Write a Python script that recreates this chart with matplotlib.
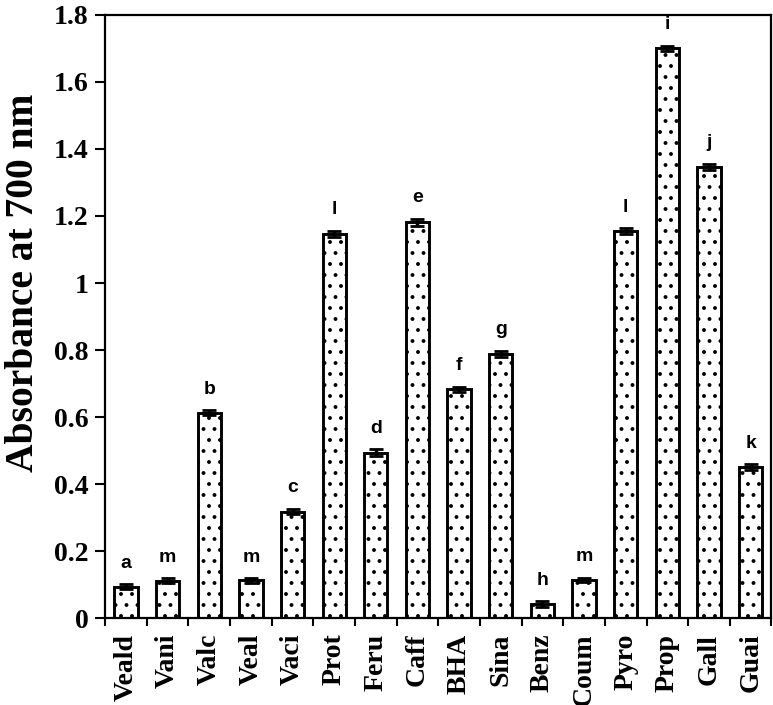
import numpy as np
import matplotlib
matplotlib.use("Agg")
import matplotlib.pyplot as plt

# compounds, absorbance at 700 nm, error and significance letters
compounds = ["Veald", "Vani", "Valc", "Veal", "Vaci", "Prot", "Feru", "Caff",
             "BHA", "Sina", "Benz", "Coum", "Pyro", "Prop", "Gall", "Guai"]
absorbance = [0.094, 0.112, 0.613, 0.113, 0.318, 1.146, 0.494, 1.181,
              0.683, 0.788, 0.043, 0.114, 1.155, 1.700, 1.347, 0.450]
errors = [0.008, 0.008, 0.007, 0.007, 0.008, 0.010, 0.010, 0.010,
          0.008, 0.010, 0.008, 0.007, 0.008, 0.007, 0.009, 0.009]
letters = ["a", "m", "b", "m", "c", "l", "d", "e",
           "f", "g", "h", "m", "l", "i", "j", "k"]

# hatch spacing is tied to dpi, so draw at 132 dpi and scale point sizes
DPI = 132
k = 100 / DPI

plt.rcParams["hatch.linewidth"] = 0.9

fig = plt.figure(figsize=(773 / DPI, 705 / DPI), dpi=DPI)
ax = fig.add_axes([0.136, 0.123, 0.862, 0.856])

x = np.arange(len(compounds))
ax.bar(x, absorbance, width=0.56, color="white", edgecolor="black",
       linewidth=2.1 * k, hatch="..", yerr=errors, capsize=5 * k,
       error_kw=dict(elinewidth=2.5 * k, capthick=2.0 * k, ecolor="black"))

for xi, v, e, lab in zip(x, absorbance, errors, letters):
    ax.annotate(lab, (xi, v + e), xytext=(0, 9 * k), textcoords="offset points",
                ha="center", va="bottom", fontsize=14 * k, fontweight="bold",
                family="Liberation Sans")

ax.set_xlim(-0.5, len(compounds) - 0.5)
ax.set_ylim(0, 1.8)
ax.set_yticks(np.arange(0, 1.81, 0.2))
ax.set_yticklabels(["0", "0.2", "0.4", "0.6", "0.8", "1", "1.2", "1.4", "1.6", "1.8"],
                   fontsize=20 * k, fontweight="bold", family="Liberation Serif")

# category labels centred, tick marks on the boundaries
ax.set_xticks(x)
ax.set_xticklabels(compounds, rotation=90, fontsize=20 * k, fontweight="bold",
                   family="Liberation Serif")
ax.tick_params(axis="x", which="major", length=0, pad=11 * k)
ax.set_xticks(np.arange(-0.5, len(compounds), 1.0), minor=True)
ax.tick_params(axis="x", which="minor", length=6 * k, width=1.5 * k)
ax.tick_params(axis="y", length=7 * k, width=1.5 * k, pad=5 * k)

ax.set_ylabel("Absorbance at 700 nm", fontsize=28.5 * k, fontweight="bold",
              family="Liberation Serif", va="center")
ax.yaxis.set_label_coords(-0.123, 0.556)

for s in ax.spines.values():
    s.set_linewidth(1.6 * k)

fig.savefig("out.png", dpi=DPI)
